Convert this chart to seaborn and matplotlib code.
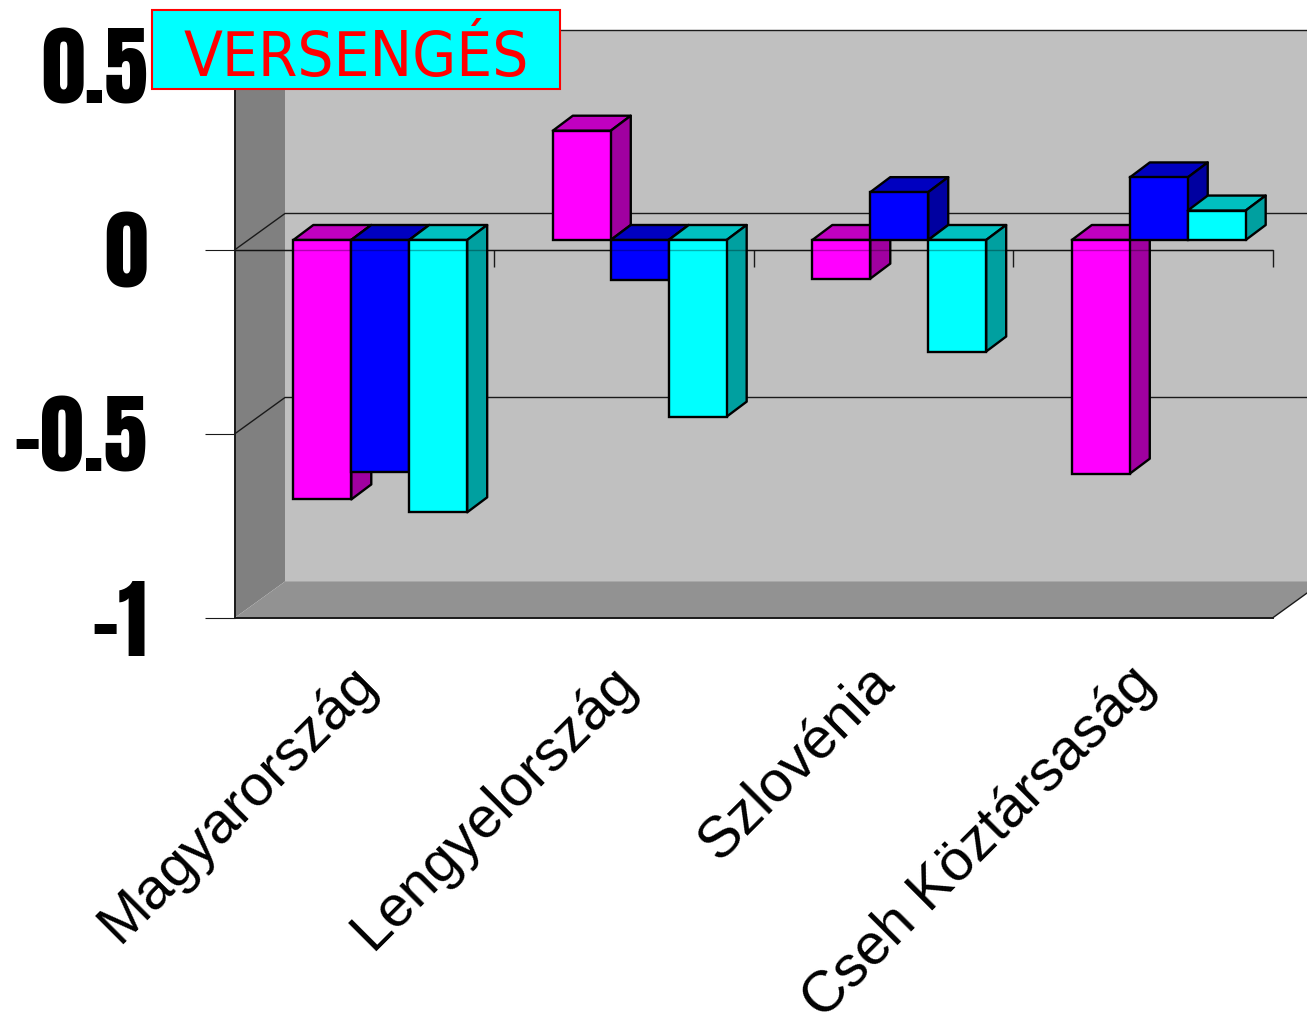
# -*- coding: utf-8 -*-
import pandas as pd
import seaborn as sns
import matplotlib.pyplot as plt
from matplotlib.patches import Polygon, Rectangle
from matplotlib.transforms import ScaledTranslation

countries = ['Magyarország', 'Lengyelország', 'Szlovénia', 'Cseh Köztársaság']
series_a = [-0.705, 0.297, -0.105, -0.635]
series_b = [-0.63, -0.11, 0.13, 0.17]
series_c = [-0.74, -0.48, -0.303, 0.08]
y_ticks = [-1, -0.5, 0, 0.5]
y_labels = ['-1', '-0.5', '0', '0.5']
title = 'VERSENGÉS'

front_colors = ['#FF00FF', '#0000FF', '#00FFFF']
top_colors = ['#C000C0', '#0000C0', '#00C0C0']
side_colors = ['#A000A0', '#0000A0', '#00A0A0']

W, H = 1307, 1017
PX_X = 259.5   # pixels per category
PX_Y = 368.0   # pixels per unit
LEFT, RIGHT = 234.5, 1272.5


def fig_rect(left, top, right, bottom):
    return [left / W, 1 - bottom / H, (right - left) / W, (bottom - top) / H]


def draw_frame(ax):
    wall_x, wall_y = 50.5 / PX_X, 36.5 / PX_Y
    x0, x1 = -0.5, 3.5
    y0, y1 = -1, 0.5
    ax.add_patch(Polygon([(x0 + wall_x, y0 + wall_y), (x1 + wall_x, y0 + wall_y),
                          (x1 + wall_x, y1 + wall_y), (x0 + wall_x, y1 + wall_y)],
                         fc='#C0C0C0', ec='none', clip_on=False, zorder=0.5))
    ax.add_patch(Polygon([(x0, y0), (x0 + wall_x, y0 + wall_y),
                          (x0 + wall_x, y1 + wall_y), (x0, y1)],
                         fc='#808080', ec='none', clip_on=False, zorder=0.6))
    ax.add_patch(Polygon([(x0, y0), (x1, y0), (x1 + wall_x, y0 + wall_y), (x0 + wall_x, y0 + wall_y)],
                         fc='#929292', ec='none', clip_on=False, zorder=0.6))
    line = dict(color='#1a1a1a', lw=1.0, clip_on=False, zorder=1)
    for g in [0, -0.5]:
        ax.plot([x0, x0 + wall_x, x1 + wall_x], [g, g + wall_y, g + wall_y], **line)
    ax.plot([x0 + wall_x, x1 + wall_x], [y1 + wall_y, y1 + wall_y], **line)
    ax.plot([x1, x1 + wall_x], [y0, y0 + wall_y], **line)
    # front zero line with the marks between the categories
    ax.plot([x0, x1], [0, 0], **line)
    ax.vlines([0.5, 1.5, 2.5, 3.5], -17 / PX_Y, 0, **line)


def draw_bars(ax, data):
    depth_x, depth_y = 20 / PX_X, 15 / PX_Y
    sns.barplot(data=data, x='country', y='value', hue='series', order=countries,
                palette=front_colors, width=0.67, gap=0, saturation=1, legend=False, ax=ax)
    for i, container in enumerate(ax.containers):
        for bar in container:
            bar.set_edgecolor('black')
            bar.set_linewidth(1.7)
            bar.set_zorder(3 + 2 * i)
            x, w = bar.get_x(), bar.get_width()
            low, high = sorted([bar.get_y(), bar.get_y() + bar.get_height()])
            face = dict(ec='black', lw=1.7, clip_on=False, zorder=2 + 2 * i, joinstyle='round')
            ax.add_patch(Polygon([(x, high), (x + w, high), (x + w + depth_x, high + depth_y),
                                  (x + depth_x, high + depth_y)], fc=top_colors[i], **face))
            ax.add_patch(Polygon([(x + w, low), (x + w + depth_x, low + depth_y),
                                  (x + w + depth_x, high + depth_y), (x + w, high)],
                                 fc=side_colors[i], **face))
            bar.set_clip_on(False)


df = pd.DataFrame({'country': countries, 'a': series_a, 'b': series_b, 'c': series_c})
df = df.melt(id_vars='country', var_name='series', value_name='value')

sns.set_style('white')
fig = plt.figure(figsize=(W / 100, H / 100), dpi=100, facecolor='white')

ax = fig.add_axes(fig_rect(LEFT, 66, RIGHT, 618), zorder=1)
ax.set_xlim(-0.5, 3.5)
ax.set_ylim(-1, 0.5)
ax.patch.set_visible(False)
draw_frame(ax)
sns.despine(ax=ax, top=True, right=True)
for side in ['left', 'bottom']:
    ax.spines[side].set_color('#1a1a1a')
    ax.spines[side].set_linewidth(1.4)
    ax.spines[side].set_zorder(2)

ax.set_yticks(y_ticks)
ax.set_yticklabels(y_labels, family=['Anton', 'Liberation Sans'], fontsize=63, color='black', va='center')
ax.tick_params(axis='y', left=True, length=21.6, width=0.8, color='#1a1a1a', pad=41)
down = ScaledTranslation(0, -6 / 100, fig.dpi_scale_trans)
for lab in ax.get_yticklabels():
    lab.set_transform(lab.get_transform() + down)

ax.set_xticks(range(len(countries)))
ax.set_xticklabels(countries, family='Liberation Sans', fontsize=41.7, rotation=45, color='black',
                   ha='right', va='top', rotation_mode='anchor')
ax.tick_params(axis='x', bottom=False, pad=23.5)
shift = ScaledTranslation(-16 / 100, 0, fig.dpi_scale_trans)
for lab in ax.get_xticklabels():
    lab.set_transform(lab.get_transform() + shift)

bar_ax = fig.add_axes(fig_rect(LEFT + 16, 66 - 10, RIGHT + 16, 618 - 10), zorder=2)
bar_ax.patch.set_visible(False)
draw_bars(bar_ax, df)
bar_ax.set_xlim(-0.5, 3.5)
bar_ax.set_ylim(-1, 0.5)
bar_ax.axis('off')

# the front zero line shows faintly through the bars
over = fig.add_axes(fig_rect(LEFT, 66, RIGHT, 618), zorder=3)
over.set_xlim(-0.5, 3.5)
over.set_ylim(-1, 0.5)
over.axis('off')
over.plot([-0.5, 3.5], [0, 0], color='black', lw=1.0, alpha=0.3)

fig.add_artist(Rectangle((152 / W, 1 - 89 / H), 408 / W, 79 / H, transform=fig.transFigure,
                         fc='#00FFFF', ec='#FF0000', lw=1.5, zorder=5))
fig.text(356 / W, 1 - 76 / H, title, color='#FF0000', family='DejaVu Sans', stretch='condensed', fontsize=45.5,
         ha='center', va='baseline', zorder=6)

plt.savefig('out.png', dpi=100)
